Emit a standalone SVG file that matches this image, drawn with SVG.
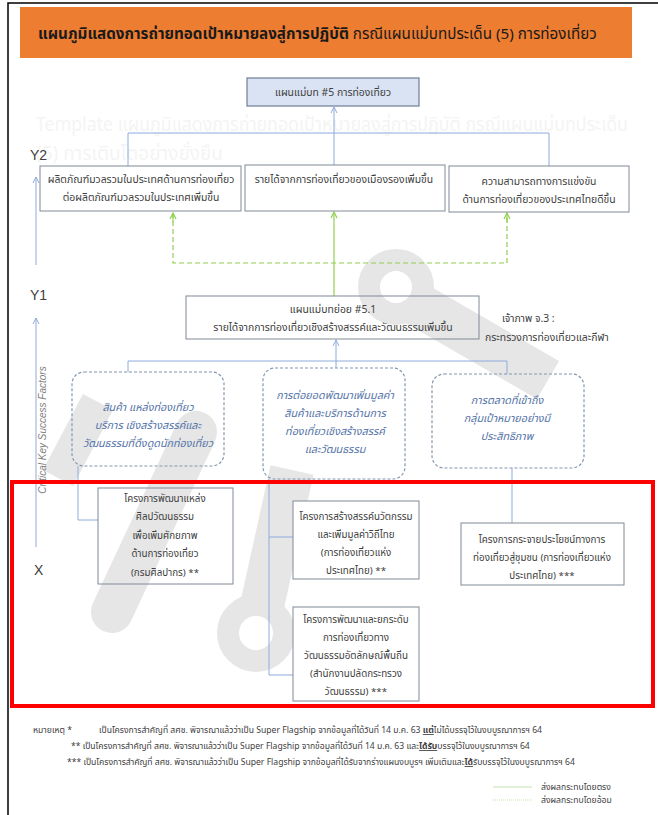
<svg xmlns="http://www.w3.org/2000/svg" width="658" height="815" viewBox="0 0 658 815">
<defs>
<style>
.t{font-family:"Noto Sans Thai","Tahoma","Leelawadee UI","Noto Sans","DejaVu Sans",sans-serif;fill:#404040;font-size:10.4px}
.c{text-anchor:middle}
.lat{font-family:"Liberation Sans","Noto Sans",sans-serif;fill:#404040}
.box{fill:#fff;stroke:#808a98;stroke-width:1}
.conn{fill:none;stroke:#8faadc;stroke-width:1}
.dbox{fill:#fff;stroke:#8497b0;stroke-width:1.2;stroke-dasharray:3 2}
.it{font-style:italic;fill:#5574a8;font-size:10.8px}
.g{fill:none;stroke:#92d050;stroke-width:1.2}
.gd{fill:none;stroke:#92d050;stroke-width:1.2;stroke-dasharray:5 3}
.fn{font-size:8.6px}
.wm{fill:#f4f4f4;font-size:19px}
.pj{font-size:9.8px}
.w{fill:none;stroke:#e6e6e6}
</style>
<marker id="ab" viewBox="0 0 8 8" refX="7" refY="4" markerWidth="8" markerHeight="8" markerUnits="userSpaceOnUse" orient="auto"><path d="M1,1 L7,4 L1,7" fill="none" stroke="#8faadc" stroke-width="1"/></marker>
<marker id="ag" viewBox="0 0 8 8" refX="7" refY="4" markerWidth="8" markerHeight="8" markerUnits="userSpaceOnUse" orient="auto"><path d="M1,1 L7,4 L1,7" fill="none" stroke="#92d050" stroke-width="1.2"/></marker>
</defs>
<rect width="658" height="815" fill="#fff"/>
<g id="watermark">
<circle class="w" cx="396" cy="287" r="27" stroke-width="22"/>
<path class="w" d="M410,300 L548,380" stroke-width="44"/>
<circle class="w" cx="256" cy="633" r="28" stroke-width="22"/>
<path class="w" d="M262,606 L292,470" stroke-width="44"/>
<path class="w" d="M196,432 L112,612" stroke-width="42" stroke-linecap="round"/>
<path class="w" d="M98,402 L58,478" stroke-width="34"/>
</g>
<path d="M8,815 V3 H660" fill="none" stroke="#000" stroke-width="1.5"/>
<g id="header">
<rect x="20" y="7" width="612" height="51" fill="#ed7d31"/>
<text class="t" x="38" y="39" style="font-size:15.2px;fill:#1a1a1a"><tspan font-weight="bold">แผนภูมิแสดงการถ่ายทอดเป้าหมายลงสู่การปฏิบัติ</tspan> กรณีแผนแม่บทประเด็น (5) การท่องเที่ยว</text>
</g>
<g id="faint-title">
<text class="t wm" x="36" y="131" textLength="592" lengthAdjust="spacingAndGlyphs">Template แผนภูมิแสดงการถ่ายทอดเป้าหมายลงสู่การปฏิบัติ กรณีแผนแม่บทประเด็น</text>
<text class="t wm" x="36" y="160">(5) การเติบโตอย่างยั่งยืน</text>
</g>
<g id="axis">
<line class="conn" x1="36" y1="265" x2="36" y2="177" marker-end="url(#ab)"/>
<line class="conn" x1="36" y1="547" x2="36" y2="318" marker-end="url(#ab)"/>
<text class="lat" x="30" y="160" font-size="14">Y2</text>
<text class="lat" x="30" y="300" font-size="14">Y1</text>
<text class="lat" x="34" y="575" font-size="14">X</text>
<text class="lat" transform="translate(46,430) rotate(-90)" text-anchor="middle" font-size="10" font-style="italic" style="fill:#7f7f7f">Critical Key Success Factors</text>
</g>
<g id="connectors">
<path class="conn" d="M128,166 V133 H549 V166"/>
<line class="conn" x1="334" y1="165" x2="334" y2="107" marker-end="url(#ab)"/>
<line class="g" x1="334" y1="296" x2="334" y2="212" marker-end="url(#ag)"/>
<path class="gd" d="M173,213 V263 H507 V213"/>
<line class="g" x1="173" y1="222" x2="173" y2="213" marker-end="url(#ag)"/>
<line class="g" x1="507" y1="222" x2="507" y2="213" marker-end="url(#ag)"/>
<line class="conn" x1="336" y1="361" x2="336" y2="340" marker-end="url(#ab)"/>
<path class="conn" d="M128,372 V361 H507 V374 M336,361 V368"/>
<path class="conn" d="M78,466 V520 H98"/>
<path class="conn" d="M269,479 V675 H293 M269,537 H293"/>
<path class="conn" d="M512,468 V523"/>
</g>
<g id="n-top">
<rect x="247" y="78" width="172" height="28" fill="#dae3f3" stroke="#6f7e94" stroke-width="1.2"/>
<text class="t c" x="333" y="96" font-size="11.5">แผนแม่บท #5 การท่องเที่ยว</text>
</g>
<g id="n-y2a">
<rect class="box" x="40" y="166" width="201" height="45"/>
<text class="t c" x="141" y="183">ผลิตภัณฑ์มวลรวมในประเทศด้านการท่องเที่ยว</text>
<text class="t c" x="141" y="201">ต่อผลิตภัณฑ์มวลรวมในประเทศเพิ่มขึ้น</text>
</g>
<g id="n-y2b">
<rect class="box" x="245" y="165" width="200" height="46"/>
<text class="t c" x="344" y="183">รายได้จากการท่องเที่ยวของเมืองรองเพิ่มขึ้น</text>
</g>
<g id="n-y2c">
<rect class="box" x="449" y="166" width="180" height="46"/>
<text class="t c" x="539" y="185">ความสามารถทางการแข่งขัน</text>
<text class="t c" x="539" y="203">ด้านการท่องเที่ยวของประเทศไทยดีขึ้น</text>
</g>
<g id="n-y1">
<rect x="186" y="296" width="293" height="43" fill="none" stroke="#808a98" stroke-width="1"/>
<text class="t c" x="333" y="313">แผนแม่บทย่อย #5.1</text>
<text class="t c" x="333" y="331">รายได้จากการท่องเที่ยวเชิงสร้างสรรค์และวัฒนธรรมเพิ่มขึ้น</text>
</g>
<g id="owner">
<text class="t" x="502" y="322">เจ้าภาพ จ.3 :</text>
<text class="t" x="485" y="341">กระทรวงการท่องเที่ยวและกีฬา</text>
</g>
<g id="n-ksf1">
<rect class="dbox" x="72" y="372" width="152" height="94" rx="12" style="fill:none"/>
<text class="t c it" x="148" y="411">สินค้า  แหล่งท่องเที่ยว</text>
<text class="t c it" x="148" y="429">บริการ เชิงสร้างสรรค์และ</text>
<text class="t c it" x="148" y="447">วัฒนธรรมที่ดึงดูดนักท่องเที่ยว</text>
</g>
<g id="n-ksf2">
<rect class="dbox" x="263" y="368" width="142" height="111" rx="12" style="fill:none"/>
<text class="t c it" x="335" y="399">การต่อยอดพัฒนาเพิ่มมูลค่า</text>
<text class="t c it" x="335" y="417">สินค้าและบริการด้านการ</text>
<text class="t c it" x="335" y="435">ท่องเที่ยวเชิงสร้างสรรค์</text>
<text class="t c it" x="335" y="453">และวัฒนธรรม</text>
</g>
<g id="n-ksf3">
<rect class="dbox" x="432" y="374" width="152" height="94" rx="12" style="fill:none"/>
<text class="t c it" x="507" y="404">การตลาดที่เข้าถึง</text>
<text class="t c it" x="507" y="422">กลุ่มเป้าหมายอย่างมี</text>
<text class="t c it" x="507" y="440">ประสิทธิภาพ</text>
</g>
<rect x="12" y="482" width="641" height="224" fill="none" stroke="#ff0000" stroke-width="4"/>
<g id="n-p1">
<rect class="box" x="98" y="488" width="135" height="96" style="fill:none"/>
<text class="t c pj" x="165" y="502">โครงการพัฒนาแหล่ง</text>
<text class="t c pj" x="165" y="520">ศิลปวัฒนธรรม</text>
<text class="t c pj" x="165" y="539">เพื่อเพิ่มศักยภาพ</text>
<text class="t c pj" x="165" y="557">ด้านการท่องเที่ยว</text>
<text class="t c pj" x="165" y="576">(กรมศิลปากร) **</text>
</g>
<g id="n-p2">
<rect class="box" x="293" y="501" width="126" height="78"/>
<text class="t c pj" x="356" y="520">โครงการสร้างสรรค์นวัตกรรม</text>
<text class="t c pj" x="356" y="538">และเพิ่มมูลค่าวิถีไทย</text>
<text class="t c pj" x="356" y="556">(การท่องเที่ยวแห่ง</text>
<text class="t c pj" x="356" y="574">ประเทศไทย) **</text>
</g>
<g id="n-p3">
<rect class="box" x="461" y="523" width="163" height="62"/>
<text class="t c pj" x="542" y="543">โครงการกระจายประโยชน์ทางการ</text>
<text class="t c pj" x="542" y="561">ท่องเที่ยวสู่ชุมชน (การท่องเที่ยวแห่ง</text>
<text class="t c pj" x="542" y="579">ประเทศไทย) ***</text>
</g>
<g id="n-p4">
<rect class="box" x="293" y="607" width="126" height="94"/>
<text class="t c pj" x="356" y="623">โครงการพัฒนาและยกระดับ</text>
<text class="t c pj" x="356" y="641">การท่องเที่ยวทาง</text>
<text class="t c pj" x="356" y="659">วัฒนธรรมอัตลักษณ์พื้นถิ่น</text>
<text class="t c pj" x="356" y="677">(สำนักงานปลัดกระทรวง</text>
<text class="t c pj" x="356" y="695">วัฒนธรรม) ***</text>
</g>
<g id="notes">
<text class="t fn" x="33" y="733">หมายเหตุ  *</text>
<text class="t fn" x="99" y="733">เป็นโครงการสำคัญที่ สศช. พิจารณาแล้วว่าเป็น Super Flagship จากข้อมูลที่ได้วันที่ 14 ม.ค. 63 <tspan font-weight="bold" text-decoration="underline">แต่</tspan>ไม่ได้บรรจุไว้ในงบบูรณาการฯ 64</text>
<text class="t fn" x="71" y="749">**  เป็นโครงการสำคัญที่ สศช. พิจารณาแล้วว่าเป็น Super Flagship จากข้อมูลที่ได้วันที่ 14 ม.ค. 63 และ<tspan font-weight="bold" text-decoration="underline">ได้รับ</tspan>บรรจุไว้ในงบบูรณาการฯ 64</text>
<text class="t fn" x="67" y="765">*** เป็นโครงการสำคัญที่ สศช. พิจารณาแล้วว่าเป็น Super Flagship จากข้อมูลที่ได้รับจากร่างแผนงบบูรฯ เพิ่มเติมและ<tspan font-weight="bold" text-decoration="underline">ได้</tspan>รับบรรจุไว้ในงบบูรณาการฯ 64</text>
</g>
<g id="legend">
<line x1="493" y1="787" x2="532" y2="787" stroke="#c5e0b4" stroke-width="1"/>
<text class="t fn" x="541" y="790">ส่งผลกระทบโดยตรง</text>
<line x1="493" y1="800" x2="532" y2="800" stroke="#c5e0b4" stroke-width="1" stroke-dasharray="1 1"/>
<text class="t fn" x="541" y="803">ส่งผลกระทบโดยอ้อม</text>
</g>
</svg>
